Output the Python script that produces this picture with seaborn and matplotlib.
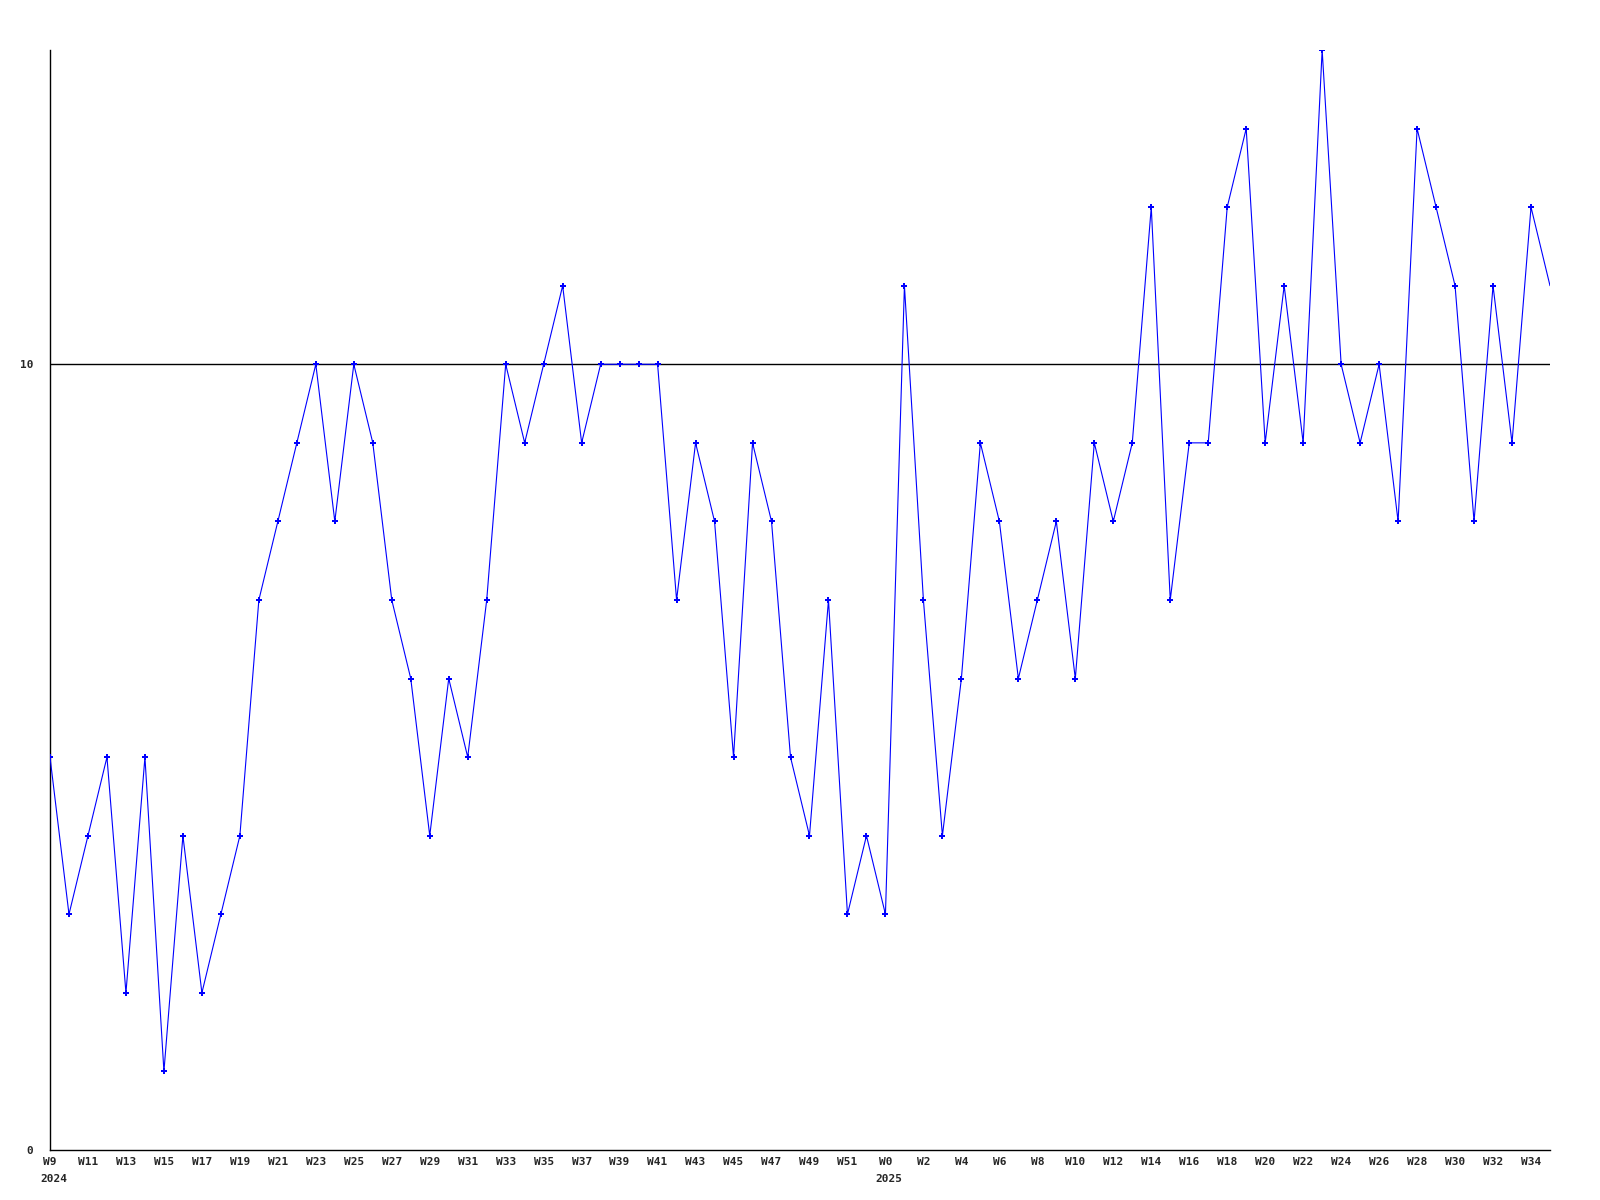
import matplotlib
matplotlib.use("Agg")
import pandas as pd
import seaborn as sns
from matplotlib import pyplot as plt

# weekly counts, 2024 W9 .. 2025 W35
weeks_2024 = [f"W{w}" for w in range(9, 53)]
weeks_2025 = [f"W{w}" for w in range(0, 36)]
values_2024 = [5, 3, 4, 5, 2, 5, 1, 4, 2, 3, 4, 7, 8, 9, 10, 8, 10, 9, 7, 6,
               4, 6, 5, 7, 10, 9, 10, 11, 9, 10, 10, 10, 10, 7, 9, 8, 5, 9, 8, 5,
               4, 7, 3, 4]
values_2025 = [3, 11, 7, 4, 6, 9, 8, 6, 7, 8, 6, 9, 8, 9, 12, 7, 9, 9, 12, 13,
               9, 11, 9, 14, 10, 9, 10, 8, 13, 12, 11, 8, 11, 9, 12, 11]
y_ticks = [0, 10]
ref_line = 10

weeks = weeks_2024 + weeks_2025
years = ["2024"] * len(weeks_2024) + ["2025"] * len(weeks_2025)
df = pd.DataFrame({"week": weeks, "year": years, "count": values_2024 + values_2025})
df["pos"] = range(len(df))

sns.set_style("white")
plt.rcParams["font.family"] = ["DejaVu Sans Mono"]
plt.rcParams["font.weight"] = "bold"

fig = plt.figure(figsize=(16, 12), dpi=100)
ax = fig.add_axes([50 / 1600, 50 / 1200, 1500 / 1600, 1100 / 1200])

ax.axhline(ref_line, color="black", lw=1.0, zorder=1)
# last point sits on the right edge, no marker drawn there
sns.lineplot(data=df, x="pos", y="count", color="#0000ff", lw=0.8,
             marker="P", markersize=4, markeredgewidth=0,
             markevery=list(range(len(df) - 1)), ax=ax, zorder=3)

ax.set_xlim(0, len(df) - 1)
ax.set_ylim(0, 14)

# labels every second week
sub = df[df["pos"] % 2 == 0]
ax.set_xticks(sub["pos"])
ax.set_xticklabels(sub["week"], fontsize=8, fontweight="bold")
ax.set_yticks(y_ticks)
ax.set_yticklabels([str(v) for v in y_ticks], fontsize=8, fontweight="bold")
ax.tick_params(axis="x", length=0, pad=5)
ax.tick_params(axis="y", length=0, pad=12)

# year under the first week of each year
first = df.drop_duplicates("year")
for _, row in first.iterrows():
    ax.annotate(row["year"], xy=(row["pos"], 0), xycoords=("data", "axes fraction"),
                xytext=(-7, -17), textcoords="offset points",
                ha="left", va="top", fontsize=8, fontweight="bold")

ax.set_xlabel(None)
ax.set_ylabel(None)
sns.despine(ax=ax, top=True, right=True)
for s in ("left", "bottom"):
    ax.spines[s].set_color("black")
    ax.spines[s].set_linewidth(1.0)

fig.savefig("out.png", dpi=100)
